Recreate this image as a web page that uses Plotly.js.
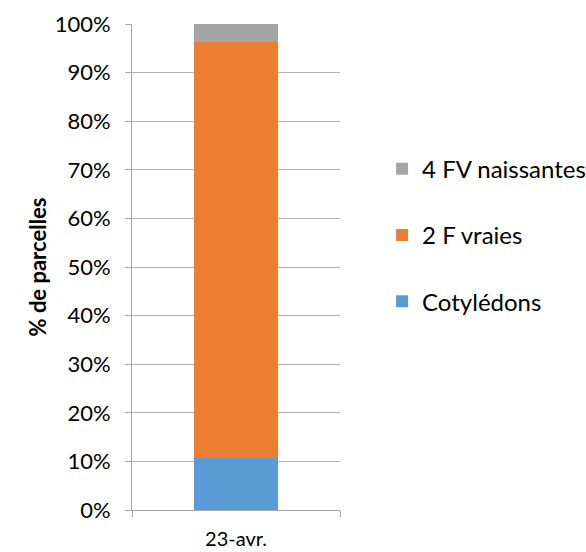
<!DOCTYPE html>
<html>
<head>
<meta charset="utf-8">
<script src="https://cdn.plot.ly/plotly-3.0.1.min.js"></script>
<style>html,body{margin:0;padding:0;background:#fff;}#chart{width:586px;height:552px;}</style>
</head>
<body>
<div id="chart"></div>
<script>
const categories = ["23-avr."];
const seriesNames = ["Cotylédons", "2 F vraies", "4 FV naissantes"];
const cotyledons = [0.107];
const deuxFVraies = [0.857];
const quatreFV = [0.036];
const colors = ["#5B9BD5", "#ED7D31", "#A5A5A5"];

const values = [cotyledons, deuxFVraies, quatreFV];
const traces = values.map((v, i) => ({
  type: "bar",
  x: categories,
  y: v,
  name: seriesNames[i],
  legendgroup: "g" + i,
  legendrank: 100 - i,
  marker: {color: colors[i]},
  hoverinfo: "none"
}));

const layout = {
  width: 586, height: 552,
  margin: {l: 132, r: 246, t: 24, b: 42},
  barmode: "stack",
  bargap: 0.6,
  paper_bgcolor: "#fff", plot_bgcolor: "#fff",
  font: {family: "Lato, 'Open Sans', sans-serif", size: 21, color: "#000"},
  xaxis: {
    type: "category",
    showline: true, linecolor: "#a6a6a6", linewidth: 1,
    ticks: "outside", tickson: "boundaries", ticklen: 6, tickcolor: "#a6a6a6",
    ticklabelstandoff: 11,
    tickfont: {size: 20}, showgrid: false
  },
  yaxis: {
    range: [0, 1], dtick: 0.1, tickformat: ".0%",
    showline: true, linecolor: "#a6a6a6", linewidth: 1,
    ticks: "outside", ticklen: 6, tickcolor: "#a6a6a6",
    gridcolor: "#b4b4b4", gridwidth: 1,
    zeroline: false,
    ticklabelstandoff: 10,
    tickfont: {size: 22},
    title: {text: "<b>% de parcelles</b>", font: {size: 22}, standoff: 1}
  },
  legend: {
    xref: "container", yref: "container",
    x: 0.652, xanchor: "left", y: 0.574, yanchor: "middle",
    traceorder: "grouped", tracegroupgap: 32,
    font: {size: 24}, bgcolor: "rgba(0,0,0,0)"
  },
  showlegend: true
};
Plotly.newPlot("chart", traces, layout, {displayModeBar: false, staticPlot: true});
</script>
</body>
</html>
